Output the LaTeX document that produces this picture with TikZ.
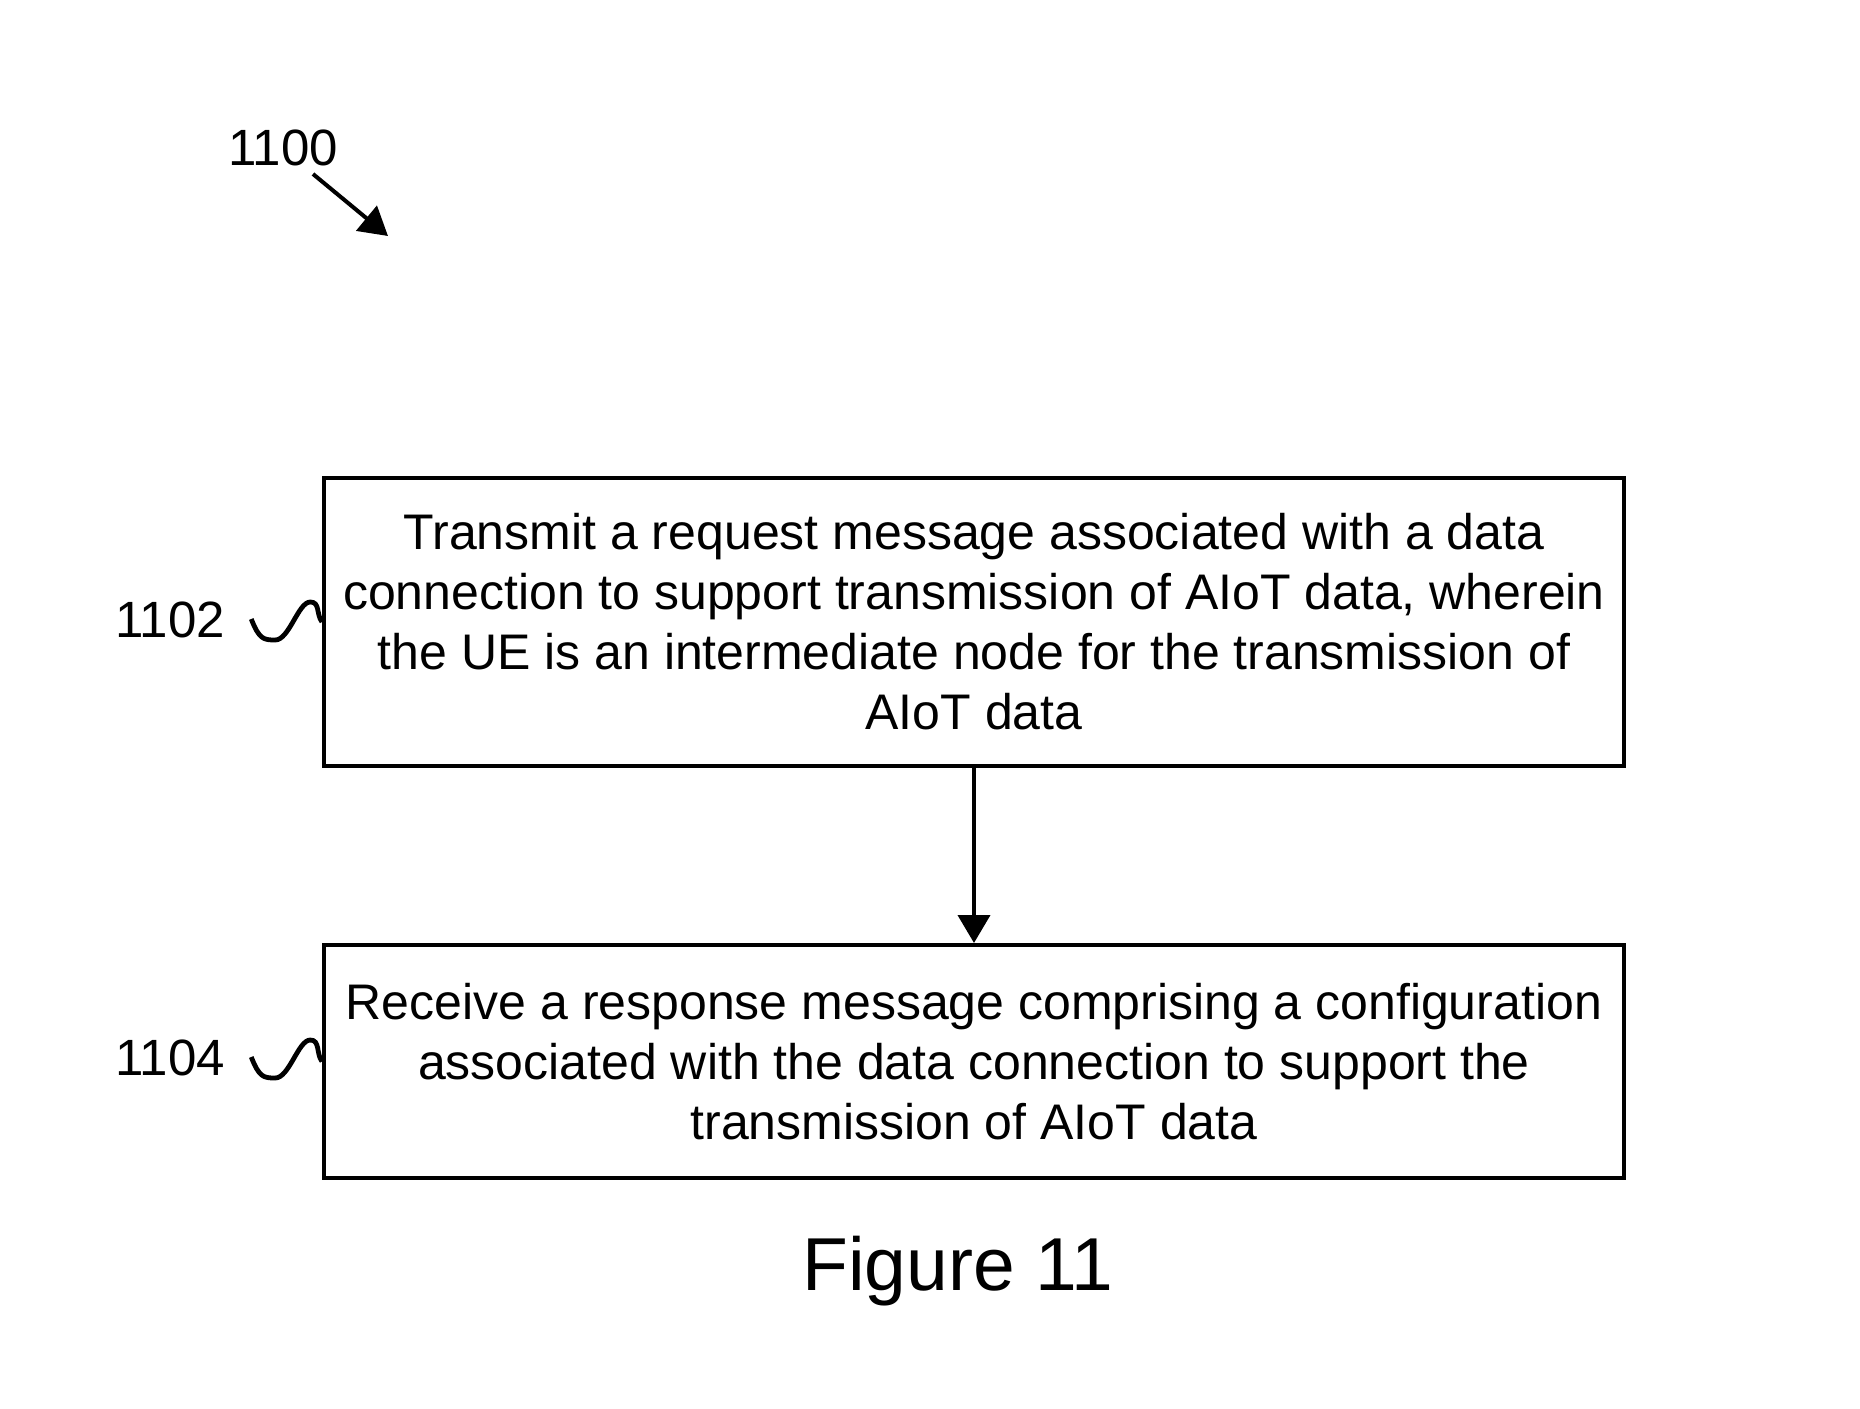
\documentclass[tikz,border=0pt]{standalone}
\usepackage{fontspec}
\setmainfont{Liberation Sans}
\usetikzlibrary{arrows.meta,calc}
\begin{document}
\begin{tikzpicture}[x=0.5pt,y=-0.5pt,
 box/.style={draw,line width=2pt,minimum width=650pt,align=center,inner sep=0pt,font=\fontsize{25}{30}\selectfont},
 lbl/.style={font=\fontsize{25.5}{28}\selectfont,inner sep=0pt},
 arr/.style={line width=2pt,-{Triangle[width=16pt,length=14pt]}},
 squig/.style={line width=2.4pt}]
\useasboundingbox (0,0) rectangle (1860,1409);
\node[box,minimum height=144pt] (b1) at (974,622) {Transmit a request message associated with a data\\connection to support transmission of AIoT data, wherein\\the UE is an intermediate node for the transmission of\\AIoT data};
\node[box,minimum height=116.5pt] (b2) at (974,1061.5) {Receive a response message comprising a configuration\\associated with the data connection to support the\\transmission of AIoT data};
\draw[arr] (b1) -- (b2);
\node[lbl] (l1100) at (283,148) {1100};
\coordinate (s1100) at (313,174);
\coordinate (e1100) at (388,236);
\draw[arr] (s1100) -- (e1100);
\node[lbl] (l1102) at (170,620) {1102};
\node[lbl] (l1104) at (170,1058) {1104};
\draw[squig] ($(l1102.east)+(26,-1)$) .. controls +(8,20) and +(-12,0) .. +(24,21) .. controls +(14,0) and +(-12,0) .. +(59,-17) .. controls +(10,0) and +(-6,-8) .. (b1.west);
\draw[squig] ($(l1104.east)+(26,-1)$) .. controls +(8,20) and +(-12,0) .. +(24,21) .. controls +(14,0) and +(-12,0) .. +(59,-17) .. controls +(10,0) and +(-6,-8) .. (b2.west);
\node[font=\fontsize{37.5}{44}\selectfont] (fig) at (958,1271) {Figure 11};
\end{tikzpicture}
\end{document}
